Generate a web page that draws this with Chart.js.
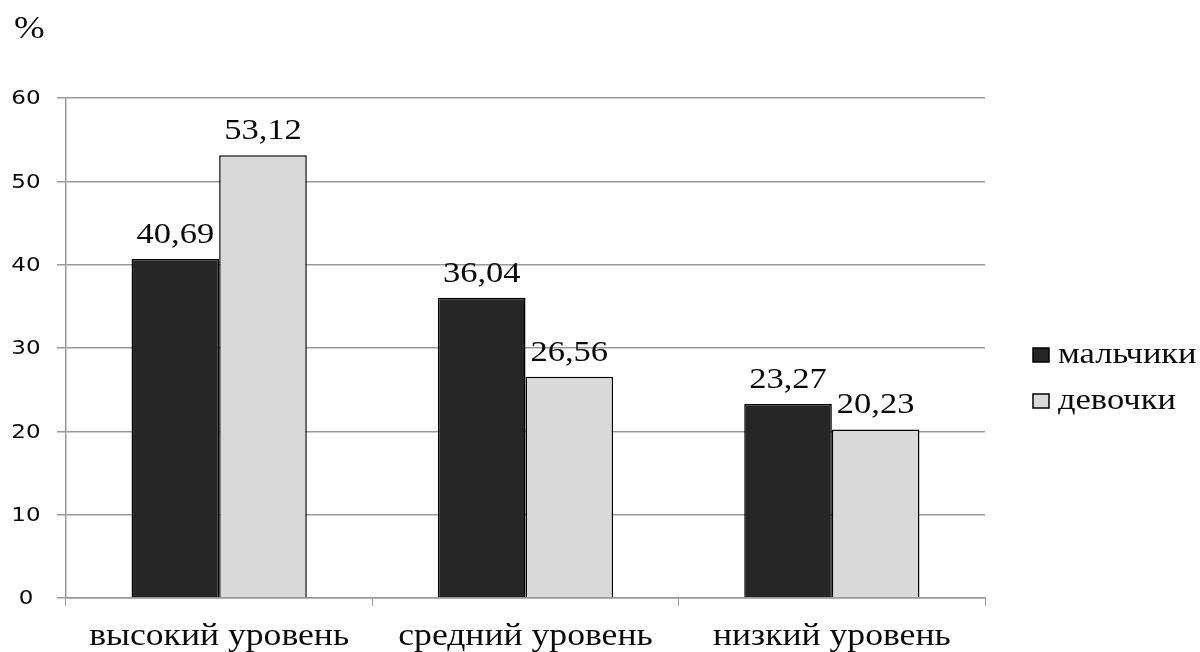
<!DOCTYPE html>
<html>
<head>
<meta charset="utf-8">
<script src="https://cdn.jsdelivr.net/npm/chart.js@4/dist/chart.umd.min.js"></script>
<style>
html,body{margin:0;padding:0;background:#fff;}
#wrap{width:1200px;height:652px;position:relative;}
</style>
</head>
<body>
<div id="wrap"><canvas id="c" width="1200" height="652"></canvas></div>
<script>
const categories = ['высокий уровень', 'средний уровень', 'низкий уровень'];
const boys = [40.69, 36.04, 23.27];
const girls = [53.12, 26.56, 20.23];
const seriesNames = ['мальчики', 'девочки'];
const yTicks = [0, 10, 20, 30, 40, 50, 60];
const unitLabel = '%';

const SERIF = '"Liberation Serif", "DejaVu Serif", serif';
const SANS = '"DejaVu Sans", Verdana, sans-serif';
const SX = 1.15; // horizontal stretch of the reference's text

function stretchText(ctx, txt, x, y, align, baseline) {
  ctx.save();
  ctx.translate(x, y);
  ctx.scale(SX, 1);
  ctx.textAlign = align;
  ctx.textBaseline = baseline;
  ctx.fillText(txt, 0, 0);
  ctx.restore();
}

const textPlugin = {
  id: 'textPlugin',
  afterDraw(chart) {
    const ctx = chart.ctx;
    const xs = chart.scales.x, ys = chart.scales.y;
    ctx.save();
    ctx.fillStyle = '#0a0a0a';
    // value labels
    ctx.font = '30px ' + SERIF;
    chart.data.datasets.forEach((ds, i) => {
      const meta = chart.getDatasetMeta(i);
      meta.data.forEach((bar, j) => {
        const txt = ds.data[j].toFixed(2).replace('.', ',');
        stretchText(ctx, txt, bar.x, bar.y - 16, 'center', 'alphabetic');
      });
    });
    // category labels
    ctx.font = '31px ' + SERIF;
    chart.data.labels.forEach((lab, i) => {
      stretchText(ctx, lab, xs.getPixelForTick(i), 637, 'center', 'middle');
    });
    // y tick labels
    ctx.font = '20px ' + SANS;
    yTicks.forEach(v => {
      stretchText(ctx, String(v), 26, ys.getPixelForValue(v) + 1, 'center', 'middle');
    });
    // unit label
    ctx.font = '32px ' + SERIF;
    stretchText(ctx, unitLabel, 14, 30, 'left', 'middle');
    // legend
    const x0 = chart.chartArea.right + 48;
    chart.data.datasets.forEach((ds, i) => {
      const y = 355 + i * 46;
      ctx.fillStyle = ds.backgroundColor;
      ctx.fillRect(x0, y - 7, 16, 14);
      ctx.strokeStyle = '#000';
      ctx.lineWidth = 1.5;
      ctx.strokeRect(x0, y - 7, 16, 14);
      ctx.fillStyle = '#0a0a0a';
      ctx.font = '30px ' + SERIF;
      stretchText(ctx, ds.label, x0 + 25, y, 'left', 'middle');
    });
    ctx.restore();
  }
};

new Chart(document.getElementById('c'), {
  type: 'bar',
  data: {
    labels: categories,
    datasets: [
      { label: seriesNames[0], data: boys, backgroundColor: '#262626', borderColor: '#000', borderWidth: 1.5 },
      { label: seriesNames[1], data: girls, backgroundColor: '#d9d9d9', borderColor: '#000', borderWidth: 1.5 }
    ]
  },
  options: {
    responsive: false,
    animation: false,
    devicePixelRatio: 1,
    layout: { padding: { top: 98, right: 215, left: 0, bottom: 0 } },
    plugins: { legend: { display: false }, title: { display: false }, tooltip: { enabled: false } },
    datasets: { bar: { categoryPercentage: 0.572, barPercentage: 1.0 } },
    scales: {
      x: {
        afterFit(scale) { scale.height = 54; },
        grid: { display: true, offset: true, drawOnChartArea: false, drawTicks: true, tickLength: 8, color: '#999' },
        border: { display: true, color: '#999', width: 1.5 },
        ticks: { font: { family: SERIF, size: 28 }, color: 'rgba(0,0,0,0)', padding: 6 }
      },
      y: {
        min: 0, max: 60,
        afterFit(scale) { scale.width = 66; },
        afterBuildTicks(scale) { scale.ticks = yTicks.map(v => ({ value: v })); },
        grid: { color: '#999', lineWidth: 1.5, drawTicks: true, tickLength: 9 },
        border: { display: true, color: '#999', width: 1.5 },
        ticks: { font: { family: SANS, size: 19 }, color: 'rgba(0,0,0,0)', padding: 20, crossAlign: 'center' }
      }
    }
  },
  plugins: [textPlugin]
});
</script>
</body>
</html>
